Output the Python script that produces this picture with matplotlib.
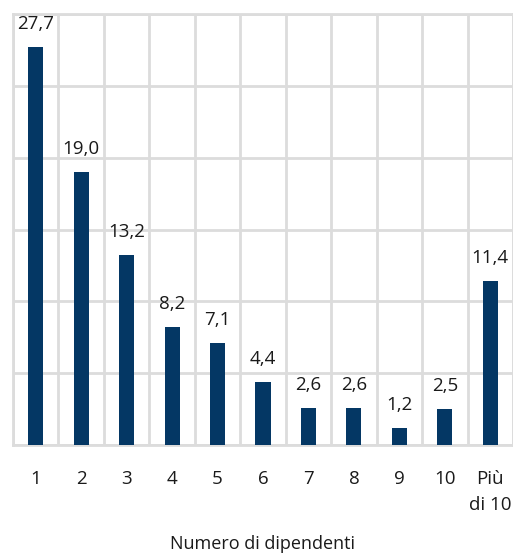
import matplotlib
matplotlib.use("Agg")
import matplotlib.pyplot as plt
import numpy as np

categories = ["1", "2", "3", "4", "5", "6", "7", "8", "9", "10", "Più\ndi 10"]
values = [27.7, 19.0, 13.2, 8.2, 7.1, 4.4, 2.6, 2.6, 1.2, 2.5, 11.4]
value_labels = ["27,7", "19,0", "13,2", "8,2", "7,1", "4,4", "2,6", "2,6", "1,2", "2,5", "11,4"]

plt.rcParams['font.family'] = ['Open Sans', 'DejaVu Sans']

W, H = 513, 553
fig = plt.figure(figsize=(W / 100, H / 100), dpi=100)
ax = fig.add_axes([13 / W, 1 - 445 / H, 500 / W, (445 - 14) / H])

x = np.arange(len(categories))
ax.bar(x, values, width=0.33, color="#043764", zorder=3)

for xi, v, lab in zip(x, values, value_labels):
    ax.annotate(lab, (xi, v), xytext=(0, 10), textcoords="offset points",
                ha="center", va="bottom", fontsize=13.5, color="#1a1a1a")

ax.set_xlim(-0.5, len(categories) - 0.5)
ax.set_ylim(0, 30)
ax.set_yticks(np.arange(0, 31, 5))
ax.set_yticklabels([])
ax.set_xticks(x)
ax.set_xticklabels(categories, fontsize=13.5, color="#1a1a1a", linespacing=1.55, va="top")
ax.set_xticks(np.arange(-0.5, len(categories), 1), minor=True)
ax.tick_params(axis="x", which="both", length=0, pad=18)
ax.tick_params(axis="y", length=0)
ax.grid(False)
ax.grid(True, axis="x", which="minor", color="#dcdcdc", linewidth=2, zorder=0)
ax.grid(True, axis="y", which="major", color="#dcdcdc", linewidth=2, zorder=0)
for s in ax.spines.values():
    s.set_color("#dcdcdc")
    s.set_linewidth(2)

ax.set_xlabel("Numero di dipendenti", fontsize=13, color="#1a1a1a", labelpad=15)

fig.savefig("out.png", dpi=100)
